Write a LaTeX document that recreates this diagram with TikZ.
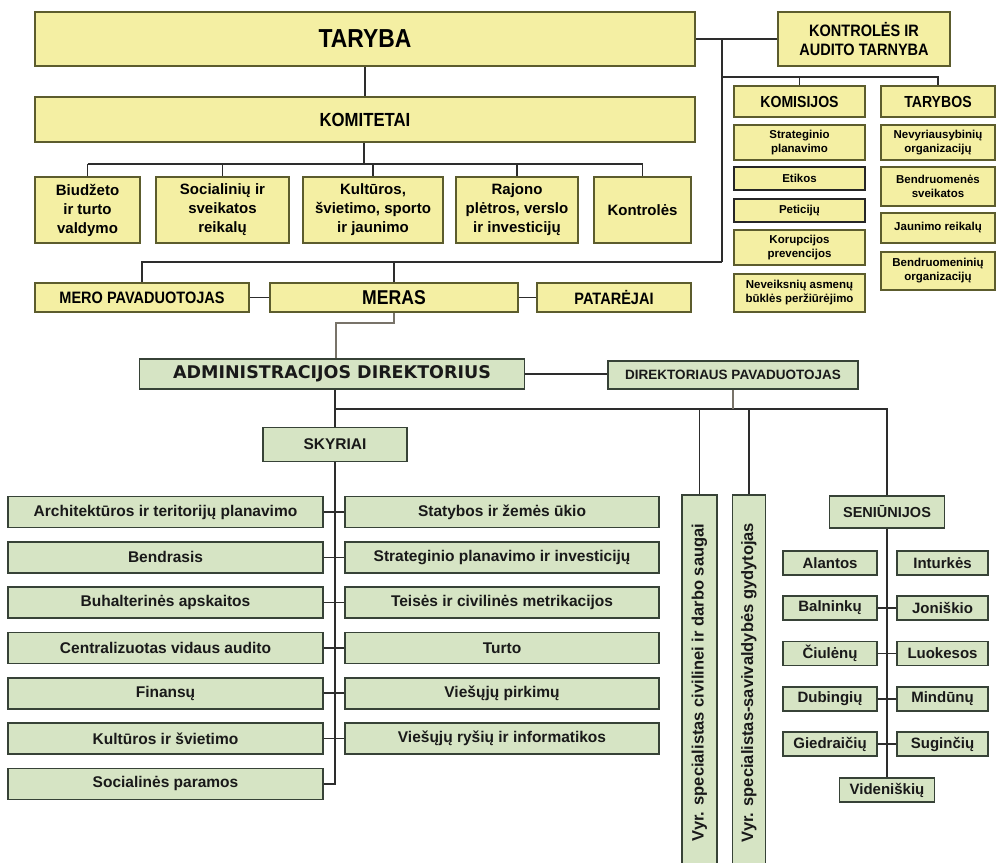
\documentclass[tikz,border=0pt]{standalone}
\usepackage{fontspec}
\setmainfont{Liberation Sans}
\newfontfamily\narrowf[FakeStretch=0.88]{Liberation Sans}
\newfontfamily\dejavuf{DejaVu Sans}
\definecolor{yfill}{RGB}{244,239,163}
\definecolor{yline}{RGB}{92,92,45}
\definecolor{gfill}{RGB}{214,228,196}
\definecolor{gline}{RGB}{55,66,55}
\definecolor{linec}{RGB}{45,45,45}
\definecolor{mlinec}{RGB}{120,115,105}
\tikzset{
  sz/.style 2 args={minimum width=#1pt, minimum height=#2pt},
  ybox/.style={draw=yline, fill=yfill, line width=1.6pt, align=center, inner sep=0pt, text=black},
  gbox/.style={draw=gline, fill=gfill, line width=1.6pt, align=center, inner sep=0pt, text=black!90},
  kbox/.style={ybox, font=\bfseries\fontsize{11.5}{14}\selectfont},
  tbox/.style={ybox, font=\bfseries\fontsize{11.5}{14}\selectfont},
  cbox/.style={ybox, font=\bfseries\fontsize{15}{19}\selectfont},
  dbox/.style={gbox, font=\bfseries\fontsize{15.5}{18}\selectfont},
  sbox/.style={gbox, font=\bfseries\fontsize{15}{18}\selectfont},
  conn/.style={draw=linec, line width=1.6pt},
  mconn/.style={draw=mlinec, line width=1.2pt},
}
\begin{document}
\begin{tikzpicture}[x=1pt,y=-1pt]
\useasboundingbox[fill=white] (0,0) rectangle (1001,862);

% ---------- top yellow part ----------
\node[ybox, sz={660}{54}, font=\narrowf\bfseries\fontsize{26}{28}\selectfont] (taryba) at (365,39) {TARYBA};
\node[ybox, sz={172}{54}, font=\narrowf\bfseries\fontsize{16.5}{19}\selectfont] (kat) at (864,39) {KONTROLĖS IR\\AUDITO TARNYBA};
\node[ybox, sz={660}{45}, font=\narrowf\bfseries\fontsize{19}{22}\selectfont] (komitetai) at (365,119.5) {KOMITETAI};

\node[cbox, sz={105}{66}] (c1) at (87.5,210) {Biudžeto\\ir turto\\valdymo};
\node[cbox, sz={133}{66}] (c2) at (222.5,210) {Socialinių ir\\sveikatos\\reikalų};
\node[cbox, sz={140}{66}] (c3) at (373,210) {Kultūros,\\švietimo, sporto\\ir jaunimo};
\node[cbox, sz={122}{66}] (c4) at (517,210) {Rajono\\plėtros, verslo\\ir investicijų};
\node[cbox, sz={97}{66}] (c5) at (642.5,210) {Kontrolės};

% komisijos
\node[ybox, sz={131}{31}, font=\narrowf\bfseries\fontsize{16}{18}\selectfont] (komisijos) at (799.5,101.5) {KOMISIJOS};
\node[kbox, sz={131}{35}] (k1) at (799.5,142.5) {Strateginio\\planavimo};
\node[kbox, sz={131}{23}, draw=black!85] (k2) at (799.5,178.5) {Etikos};
\node[kbox, sz={131}{23}, draw=black!85] (k3) at (799.5,210.5) {Peticijų};
\node[kbox, sz={131}{35}] (k4) at (799.5,247.5) {Korupcijos\\prevencijos};
\node[kbox, sz={131}{38}] (k5) at (799.5,293) {Neveiksnių asmenų\\būklės peržiūrėjimo};

% tarybos
\node[ybox, sz={114}{31}, font=\narrowf\bfseries\fontsize{16}{18}\selectfont] (tarybos) at (938,101.5) {TARYBOS};
\node[tbox, sz={114}{35}] (t1) at (938,142.5) {Nevyriausybinių\\organizacijų};
\node[tbox, sz={114}{39}] (t2) at (938,186.5) {Bendruomenės\\sveikatos};
\node[tbox, sz={114}{30}] (t3) at (938,228) {Jaunimo reikalų};
\node[tbox, sz={114}{38}] (t4) at (938,271) {Bendruomeninių\\organizacijų};

% meras row
\node[ybox, sz={214}{29}, font=\narrowf\bfseries\fontsize{16.5}{19}\selectfont] (meropav) at (142,297.5) {MERO PAVADUOTOJAS};
\node[ybox, sz={248}{29}, font=\narrowf\bfseries\fontsize{20}{22}\selectfont] (meras) at (394,297.5) {MERAS};
\node[ybox, sz={154}{29}, font=\narrowf\bfseries\fontsize{16.5}{19}\selectfont] (patarejai) at (614,297.5) {PATARĖJAI};

% ---------- green part ----------
\node[gbox, sz={385}{30}, font=\dejavuf\bfseries\fontsize{17.5}{20}\selectfont] (admin) at (332,374) {ADMINISTRACIJOS DIREKTORIUS};
\node[gbox, sz={250}{28}, font=\bfseries\fontsize{13.5}{16}\selectfont] (dirpav) at (733,375) {DIREKTORIAUS PAVADUOTOJAS};
\node[gbox, sz={144}{34}, font=\bfseries\fontsize{15.5}{18}\selectfont] (skyriai) at (335,444.5) {SKYRIAI};

\node[dbox, sz={315}{31}] (L1) at (165.5,512) {Architektūros ir teritorijų planavimo};
\node[dbox, sz={315}{31}] (L2) at (165.5,557.3) {Bendrasis};
\node[dbox, sz={315}{31}] (L3) at (165.5,602.6) {Buhalterinės apskaitos};
\node[dbox, sz={315}{31}] (L4) at (165.5,647.9) {Centralizuotas vidaus audito};
\node[dbox, sz={315}{31}] (L5) at (165.5,693.2) {Finansų};
\node[dbox, sz={315}{31}] (L6) at (165.5,738.5) {Kultūros ir švietimo};
\node[dbox, sz={315}{31}] (L7) at (165.5,783.8) {Socialinės paramos};

\node[dbox, sz={314}{31}] (R1) at (502,512) {Statybos ir žemės ūkio};
\node[dbox, sz={314}{31}] (R2) at (502,557.3) {Strateginio planavimo ir investicijų};
\node[dbox, sz={314}{31}] (R3) at (502,602.6) {Teisės ir civilinės metrikacijos};
\node[dbox, sz={314}{31}] (R4) at (502,647.9) {Turto};
\node[dbox, sz={314}{31}] (R5) at (502,693.2) {Viešųjų pirkimų};
\node[dbox, sz={314}{31}] (R6) at (502,738.5) {Viešųjų ryšių ir informatikos};

\node[gbox, sz={375}{35}, font=\bfseries\fontsize{16.5}{18}\selectfont, rotate=90] (vyr1) at (699.5,682.5) {Vyr. specialistas civilinei ir darbo saugai};
\node[gbox, sz={375}{33}, font=\bfseries\fontsize{16.5}{18}\selectfont, rotate=90] (vyr2) at (749,682.5) {Vyr. specialistas-savivaldybės gydytojas};

\node[gbox, sz={115}{32}, font=\bfseries\fontsize{14.5}{17}\selectfont] (seni) at (887,512) {SENIŪNIJOS};
\node[sbox, sz={94}{24}] (s1L) at (830,563) {Alantos};
\node[sbox, sz={91}{24}] (s1R) at (942.5,563) {Inturkės};
\node[sbox, sz={94}{24}] (s2L) at (830,608) {Balninkų};
\node[sbox, sz={91}{24}] (s2R) at (942.5,608) {Joniškio};
\node[sbox, sz={94}{24}] (s3L) at (830,653.5) {Čiulėnų};
\node[sbox, sz={91}{24}] (s3R) at (942.5,653.5) {Luokesos};
\node[sbox, sz={94}{24}] (s4L) at (830,699) {Dubingių};
\node[sbox, sz={91}{24}] (s4R) at (942.5,699) {Mindūnų};
\node[sbox, sz={94}{24}] (s5L) at (830,744) {Giedraičių};
\node[sbox, sz={91}{24}] (s5R) at (942.5,744) {Suginčių};
\node[sbox, sz={95}{24}] (viden) at (887,790) {Videniškių};

% ---------- connectors ----------
\coordinate (j1) at (722,39);
\coordinate (j2) at (722,262);
\coordinate (j3) at (722,77);
\coordinate (kb) at (364,164);
\coordinate (a1) at (336,323);
\coordinate (b0) at (335,409);

\draw[conn] (taryba.east) -- (kat.west);
\draw[conn] (j1) -- (j2);
\draw[conn] (j3) -- (tarybos.north |- j3) -- (tarybos.north);
\draw[conn] (komisijos.north |- j3) -- (komisijos.north);
\draw[conn] (taryba.south) -- (komitetai.north);
\draw[conn] (komitetai.south -| kb) -- (kb);
\draw[conn] (c1.north |- kb) -- (c5.north |- kb);
\foreach \n in {c1,c2,c3,c4,c5} \draw[conn] (\n.north |- kb) -- (\n.north);
\draw[conn] (j2) -- (meropav.north |- j2) -- (meropav.north);
\draw[conn] (meras.north |- j2) -- (meras.north);
\draw[conn] (meropav.east) -- (meras.west);
\draw[conn] (meras.east) -- (patarejai.west);

\draw[mconn] (meras.south) |- (a1) -- (a1 |- admin.north);
\draw[conn] (admin.east) -- (admin.east -| dirpav.west);
\draw[conn] (b0 |- admin.south) -- (b0) -- (seni.north |- b0) -- (seni.north);
\draw[mconn] (dirpav.south) -- (dirpav.south |- b0);
\draw[conn] (b0) -- (skyriai.north);
\draw[conn] (vyr1.east |- b0) -- (vyr1.east);
\draw[conn] (vyr2.east |- b0) -- (vyr2.east);

\draw[conn] (skyriai.south) -- (skyriai.south |- L7.east) -- (L7.east);
\foreach \i in {1,...,6} \draw[conn] (L\i.east) -- (R\i.west);

\draw[conn] (seni.south) -- (viden.north);
\foreach \i in {2,...,5} \draw[conn] (s\i L.east) -- (s\i R.west);
\end{tikzpicture}
\end{document}
